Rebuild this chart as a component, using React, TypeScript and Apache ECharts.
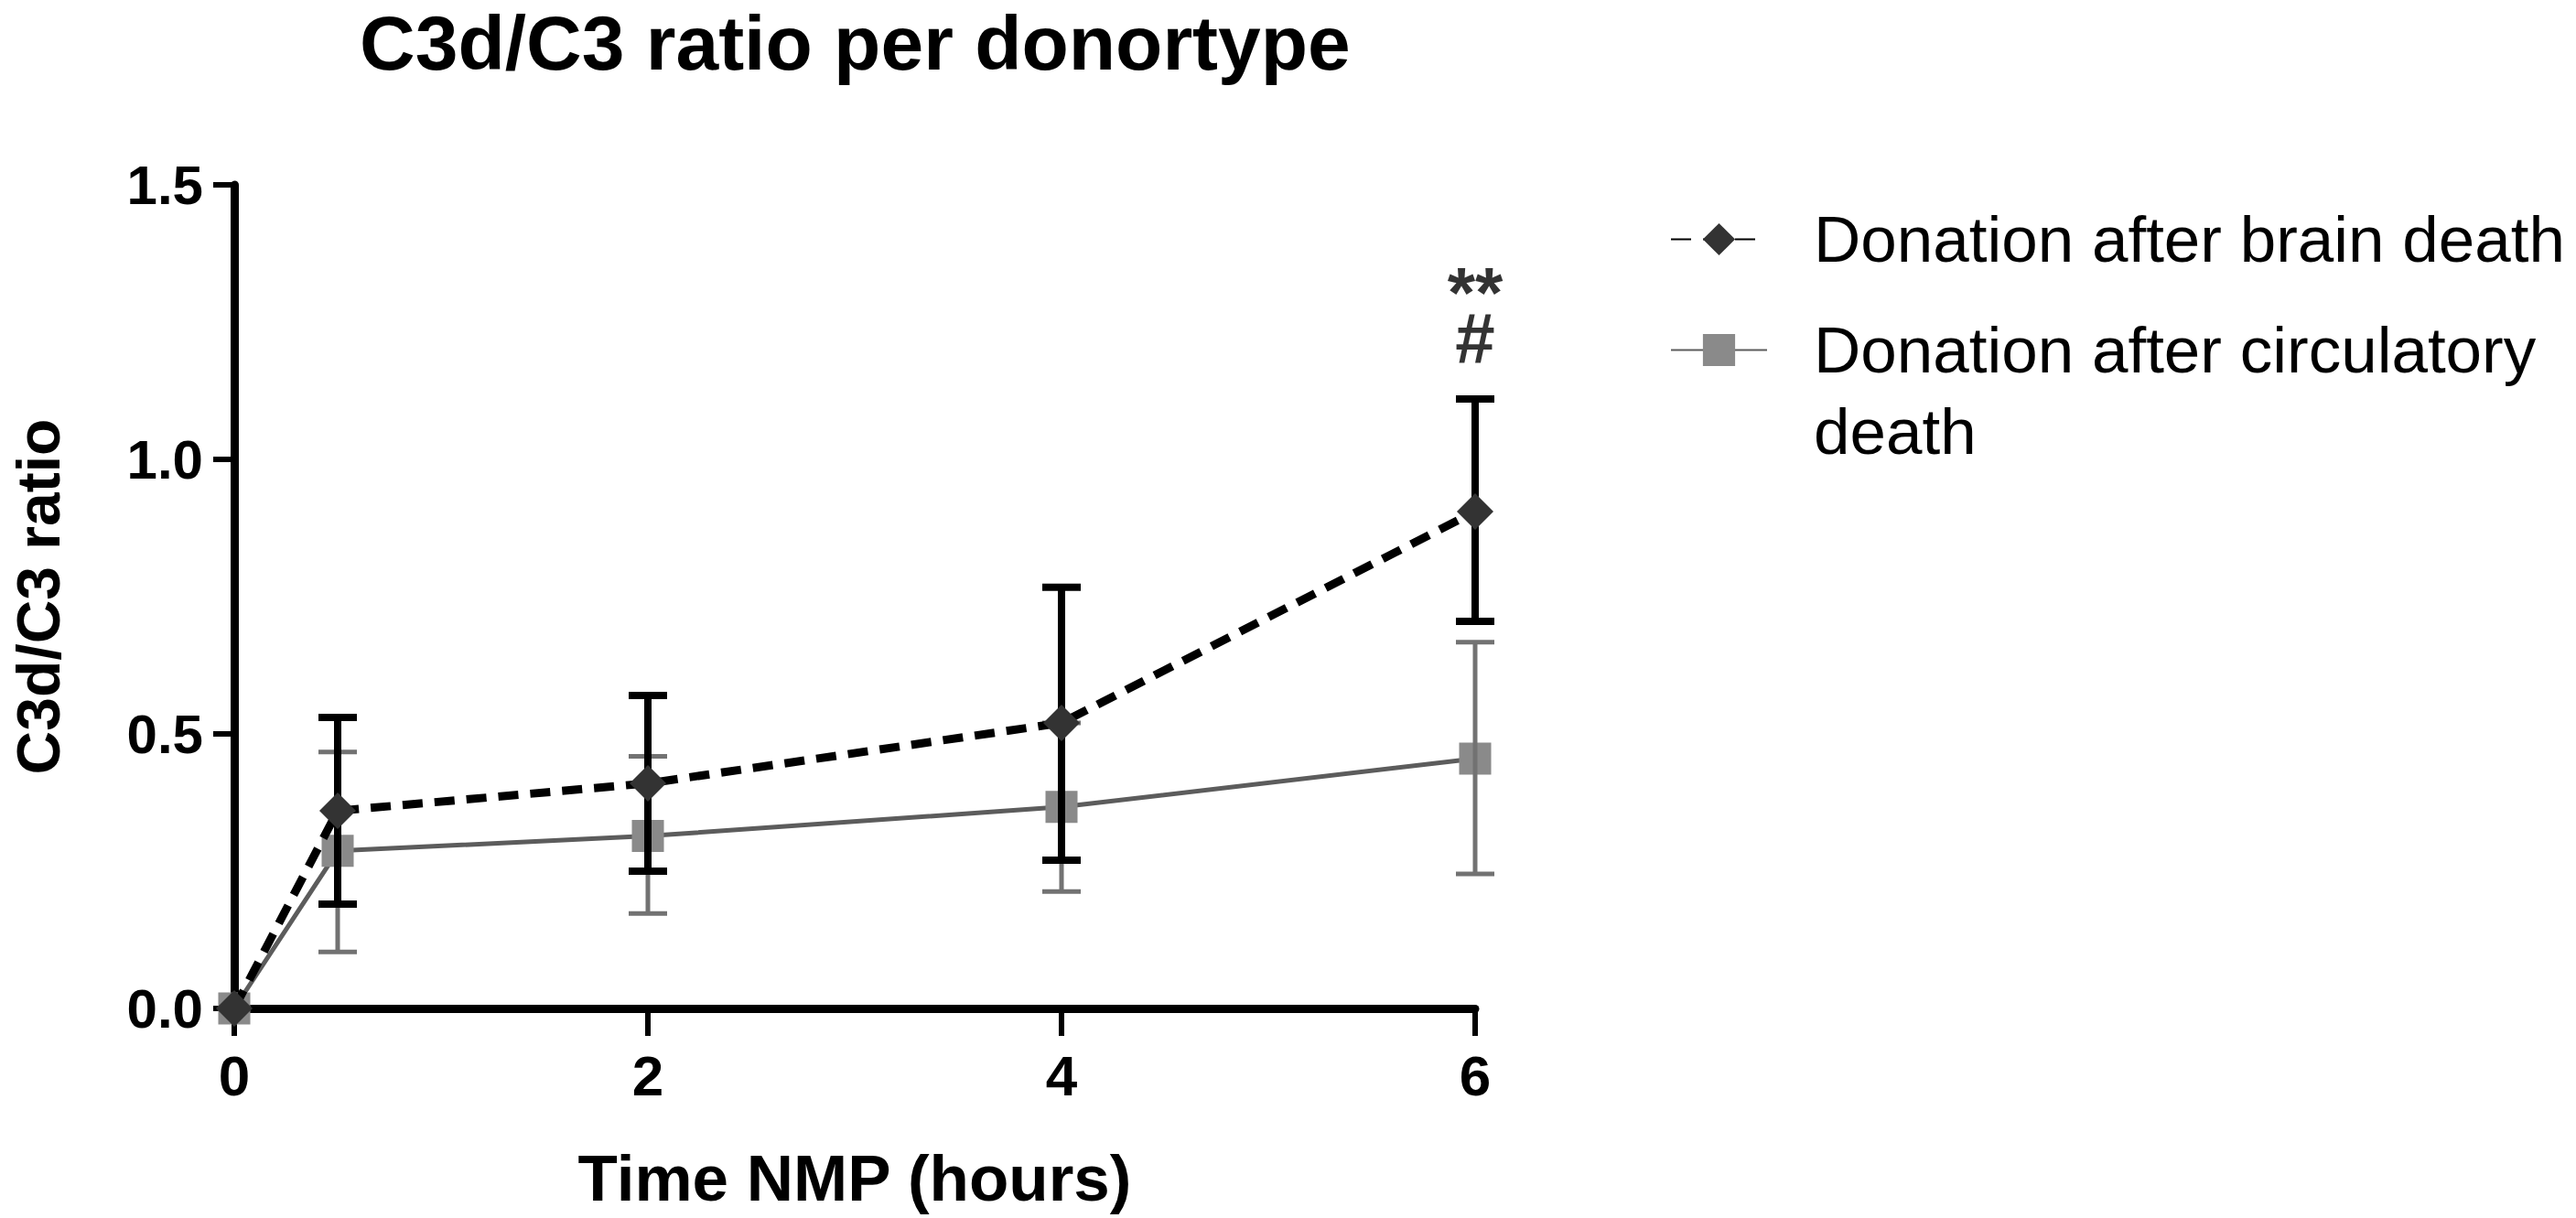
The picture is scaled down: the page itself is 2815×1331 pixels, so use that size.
import React, { useEffect, useRef } from "react";
import * as echarts from "echarts";

const timePoints = [0, 0.5, 2, 4, 6];
const dbdMean = [0, 0.36, 0.41, 0.52, 0.905];
const dbdLower = [0, 0.19, 0.25, 0.27, 0.705];
const dbdUpper = [0, 0.53, 0.57, 0.767, 1.11];
const dcdMean = [0, 0.287, 0.314, 0.367, 0.455];
const dcdLower = [0, 0.103, 0.173, 0.213, 0.245];
const dcdUpper = [0, 0.467, 0.459, 0.52, 0.667];
const seriesNames = ["Donation after brain death", "Donation after circulatory death"];
const legendLabels = ["Donation after brain death", "\nDonation after circulatory\ndeath"];
const annotText = "**\n#";
const annotValue = 1.262;
const annotTime = 6;
const titleText = "C3d/C3 ratio per donortype";
const xAxisTitle = "Time NMP (hours)";
const yAxisTitle = "C3d/C3 ratio";

const FONT = "'Liberation Sans', Arial, sans-serif";

function errorRenderer(color: string, width: number, halfCap: number) {
  return (params: any, api: any) => {
    const x = api.value(0);
    const lo = api.value(1);
    const hi = api.value(2);
    if (hi === lo) return { type: "group", children: [] };
    const top = api.coord([x, hi]);
    const bot = api.coord([x, lo]);
    const style = { stroke: color, lineWidth: width };
    return {
      type: "group",
      children: [
        { type: "line", shape: { x1: top[0], y1: top[1], x2: bot[0], y2: bot[1] }, style },
        { type: "line", shape: { x1: top[0] - halfCap, y1: top[1], x2: top[0] + halfCap, y2: top[1] }, style },
        { type: "line", shape: { x1: bot[0] - halfCap, y1: bot[1], x2: bot[0] + halfCap, y2: bot[1] }, style },
      ],
    };
  };
}

export default function App() {
  const ref = useRef<HTMLDivElement>(null);
  useEffect(() => {
    if (!ref.current) return;
    const chart = echarts.init(ref.current, undefined, { renderer: "svg" });
    const option: any = {
      animation: false,
      backgroundColor: "#ffffff",
      title: {
        text: titleText,
        left: 393,
        top: 5,
        padding: 0,
        textStyle: { fontSize: 84, fontWeight: "bold", fontFamily: FONT, color: "#000" },
      },
      grid: { left: 256, right: 1203, top: 202, bottom: 229, containLabel: false },
      legend: {
        orient: "vertical",
        left: 1825,
        top: 217,
        padding: 0,
        itemWidth: 105,
        itemHeight: 44,
        itemGap: -57,
        selectedMode: false,
        data: [
          { name: seriesNames[0], textStyle: { padding: [0, 0, 0, 46] } },
          { name: seriesNames[1], textStyle: { padding: [0, 0, 0, 46] } },
        ],
        formatter: (name: string) => legendLabels[seriesNames.indexOf(name)],
        textStyle: { fontSize: 71, fontFamily: FONT, color: "#000", lineHeight: 89 },
      },
      xAxis: {
        type: "value",
        min: 0,
        max: 6,
        interval: 2,
        name: xAxisTitle,
        nameLocation: "middle",
        nameGap: 150,
        nameTextStyle: { fontSize: 71, fontWeight: "bold", fontFamily: FONT, color: "#000" },
        axisLine: { show: true, onZero: false, lineStyle: { color: "#000", width: 9 } },
        axisTick: { show: true, length: 30, lineStyle: { color: "#000", width: 6 } },
        axisLabel: { margin: 42, fontSize: 62, fontWeight: "bold", fontFamily: FONT, color: "#000" },
        splitLine: { show: false },
      },
      yAxis: {
        type: "value",
        min: 0,
        max: 1.5,
        interval: 0.5,
        name: yAxisTitle,
        nameLocation: "middle",
        nameGap: 181,
        nameTextStyle: { fontSize: 66, fontWeight: "bold", fontFamily: FONT, color: "#000" },
        axisLine: { show: true, lineStyle: { color: "#000", width: 9 } },
        axisTick: { show: true, length: 23, lineStyle: { color: "#000", width: 6 } },
        axisLabel: {
          margin: 34,
          fontSize: 60,
          fontWeight: "bold",
          fontFamily: FONT,
          color: "#000",
          formatter: (v: number) => v.toFixed(1),
        },
        splitLine: { show: false },
      },
      series: [
        {
          name: seriesNames[1],
          type: "line",
          data: timePoints.map((t, i) => [t, dcdMean[i]]),
          symbol: "rect",
          symbolSize: 35,
          clip: false,
          z: 2,
          itemStyle: { color: "#8a8a8a" },
          lineStyle: { color: "#5c5c5c", width: 5, type: "solid" },
        },
        {
          name: "dcdError",
          type: "custom",
          renderItem: errorRenderer("#727272", 5, 21),
          data: timePoints.map((t, i) => [t, dcdLower[i], dcdUpper[i]]),
          encode: { x: 0, y: [1, 2] },
          clip: false,
          z: 3,
        },
        {
          name: "dbdError",
          type: "custom",
          renderItem: errorRenderer("#000000", 8, 21),
          data: timePoints.map((t, i) => [t, dbdLower[i], dbdUpper[i]]),
          encode: { x: 0, y: [1, 2] },
          clip: false,
          z: 4,
        },
        {
          name: seriesNames[0],
          type: "line",
          data: timePoints.map((t, i) => [t, dbdMean[i]]),
          symbol: "diamond",
          symbolSize: 40,
          clip: false,
          z: 5,
          itemStyle: { color: "#333333" },
          lineStyle: { color: "#000000", width: 9, type: [22, 13] },
        },
        {
          name: "annotations",
          type: "scatter",
          data: [[annotTime, annotValue]],
          symbol: "circle",
          symbolSize: 1,
          itemStyle: { color: "rgba(0,0,0,0)" },
          clip: false,
          z: 6,
          label: {
            show: true,
            position: "inside",
            formatter: () => annotText,
            fontSize: 78,
            lineHeight: 50,
            fontWeight: "bold",
            fontFamily: FONT,
            color: "#000",
          },
        },
      ],
    };
    chart.setOption(option);
    return () => chart.dispose();
  }, []);
  return (
    <div
      ref={ref}
      style={{ position: "fixed", left: 0, top: 0, width: 2815, height: 1331, background: "#fff" }}
    />
  );
}
